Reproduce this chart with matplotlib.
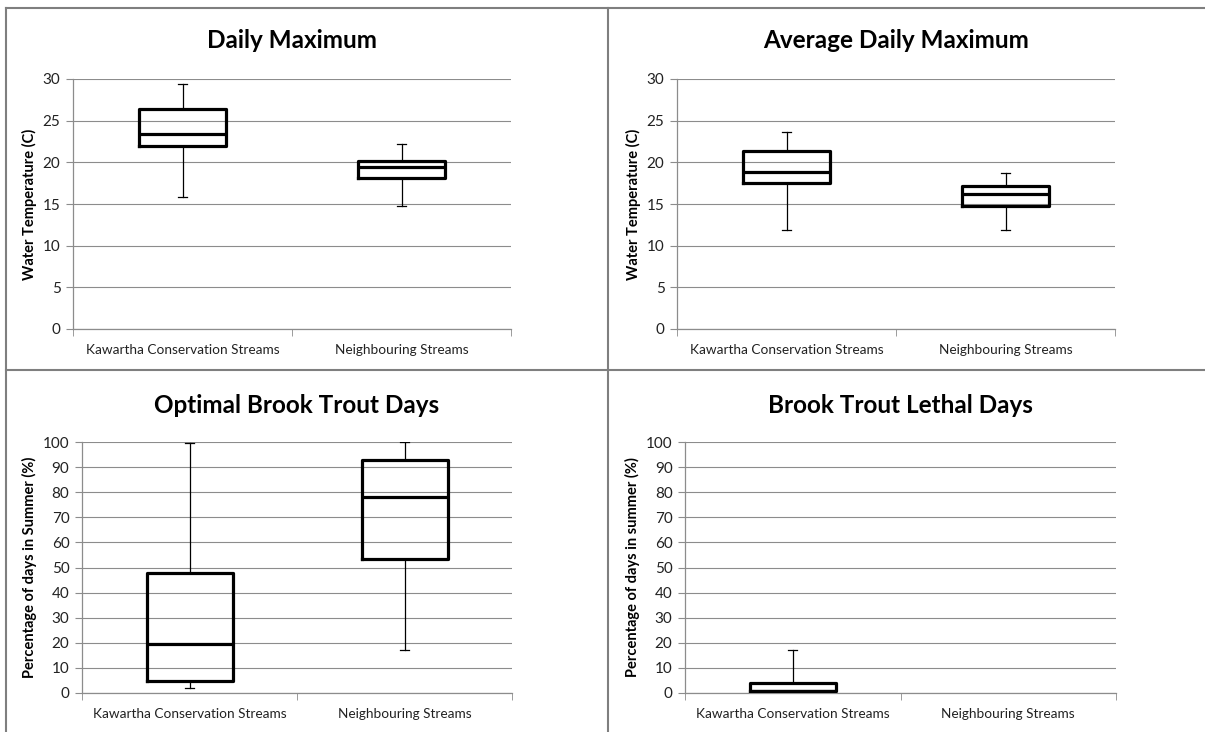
import matplotlib
matplotlib.use('Agg')
import matplotlib.pyplot as plt
from matplotlib.lines import Line2D

plt.rcParams['font.family'] = ['Lato', 'DejaVu Sans']

# Stream groups
groups = ['Kawartha Conservation Streams', 'Neighbouring Streams']

# Box summaries per group: [whisker low, Q1, median, Q3, whisker high]
daily_max = [[15.8, 22.0, 23.4, 26.4, 29.4],
             [14.8, 18.1, 19.4, 20.2, 22.2]]
avg_daily_max = [[11.9, 17.5, 18.8, 21.4, 23.6],
                 [11.9, 14.8, 16.2, 17.1, 18.7]]
optimal_days = [[1.9, 4.7, 19.7, 47.9, 99.7],
                [17.3, 53.3, 77.9, 92.9, 100.0]]
lethal_days = [[0.0, 0.7, 0.7, 4.0, 17.3],
               None]  # no lethal days recorded in neighbouring streams

panels = [
    ('Daily Maximum', daily_max, 'Water Temperature (C)', 30, 5),
    ('Average Daily Maximum', avg_daily_max, 'Water Temperature (C)', 30, 5),
    ('Optimal Brook Trout Days', optimal_days, 'Percentage of days in Summer (%)', 100, 10),
    ('Brook Trout Lethal Days', lethal_days, 'Percentage of days in summer (%)', 100, 10),
]

W, H = 1205, 732
fig = plt.figure(figsize=(W / 100, H / 100), dpi=100)

# axes rectangles in pixels: left, top, right, bottom
rects = [(73, 79, 511, 329), (677, 79, 1115, 329),
         (82, 442, 512, 693), (685, 442, 1116, 693)]
title_y = [41, 41, 406, 406]

grid_col = '#8c8c8c'

for (title, data, ylabel, ymax, step), (l, t, r, b), ty in zip(panels, rects, title_y):
    ax = fig.add_axes([l / W, 1 - b / H, (r - l) / W, (b - t) / H])
    stats = []
    pos = []
    for i, vals in enumerate(data):
        if vals is None:
            continue
        lo, q1, med, q3, hi = vals
        stats.append(dict(whislo=lo, q1=q1, med=med, q3=q3, whishi=hi, fliers=[]))
        pos.append(i + 1)
    ax.bxp(stats, positions=pos, widths=0.4, capwidths=0.04, showfliers=False,
           patch_artist=False,
           boxprops=dict(color='black', linewidth=2.3),
           medianprops=dict(color='black', linewidth=2.3),
           whiskerprops=dict(color='black', linewidth=0.9),
           capprops=dict(color='black', linewidth=0.9),
           zorder=3)
    ax.set_xlim(0.5, 2.5)
    ax.set_ylim(0, ymax)
    ax.set_yticks(range(0, ymax + 1, step))
    ax.grid(axis='y', color=grid_col, linewidth=0.8)
    ax.set_axisbelow(True)
    ax.set_xticks([1, 2])
    ax.set_xticklabels(groups, fontsize=9.8, color='#222222')
    ax.set_xticks([0.5, 1.5, 2.5], minor=True)
    ax.tick_params(axis='x', which='major', length=0, pad=11)
    ax.tick_params(axis='x', which='minor', length=5, color=grid_col, direction='out')
    ax.tick_params(axis='y', length=5, color=grid_col, labelsize=11, labelcolor='#222222', pad=4)
    for side in ['top', 'right']:
        ax.spines[side].set_visible(False)
    for side in ['left', 'bottom']:
        ax.spines[side].set_color(grid_col)
        ax.spines[side].set_linewidth(0.9)
    ax.set_ylabel(ylabel, fontsize=10.5, fontweight='bold', labelpad=4)
    fig.text((l + r) / 2 / W, 1 - ty / H, title, ha='center', va='center',
             fontsize=17.5, fontweight='bold')

# panel borders
border = dict(color='#7f7f7f', linewidth=1.5, transform=fig.transFigure)
fig.add_artist(Line2D([6 / W, 1], [1 - 8 / H, 1 - 8 / H], **border))
fig.add_artist(Line2D([6 / W, 6 / W], [0, 1 - 8 / H], **border))
fig.add_artist(Line2D([608 / W, 608 / W], [0, 1 - 8 / H], **border))
fig.add_artist(Line2D([6 / W, 1], [1 - 370 / H, 1 - 370 / H], **border))

fig.savefig('out.png', dpi=100, facecolor='white')
